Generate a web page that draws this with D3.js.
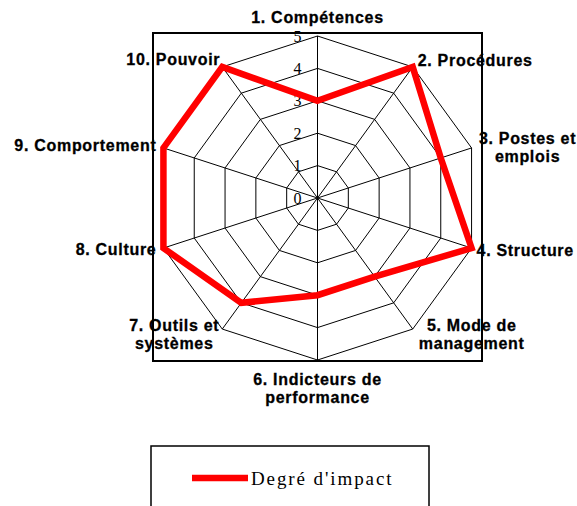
<!DOCTYPE html>
<html>
<head>
<meta charset="utf-8">
<script src="https://cdn.jsdelivr.net/npm/d3@7"></script>
<style>
  html, body { margin: 0; padding: 0; background: #fff; }
  svg { display: block; }
</style>
</head>
<body>
<svg id="chart" width="577" height="506"></svg>
<script>
// ---- Data ----
const categories = [
  "1. Compétences",
  "2. Procédures",
  "3. Postes et\nemplois",
  "4. Structure",
  "5. Mode de\nmanagement",
  "6. Indicteurs de\nperformance",
  "7. Outils et\nsystèmes",
  "8. Culture",
  "9. Comportement",
  "10. Pouvoir"
];
const values = [3, 5, 4, 5, 3, 3, 4, 5, 5, 5];
const tickValues = [0, 1, 2, 3, 4, 5];
const seriesName = "Degré d'impact";

// ---- Layout (not data) ----
const cx = 317.5, cy = 198, R = 162;
// label placement relative to the outer vertex of each axis: [anchor, dx, dy]
const labelLayout = [
  ["middle", 0, -13],
  ["start", 5, -1],
  ["middle", 56, -4],
  ["start", 5, 8],
  ["middle", 59, 2],
  ["middle", 0, 25],
  ["middle", -48, 2],
  ["end", -7, 7],
  ["end", -7, 3],
  ["end", -2, -2]
];

const svg = d3.select("#chart");
const r = d3.scaleLinear().domain([0, 5]).range([0, R]);
const angle = d3.scalePoint().domain(d3.range(categories.length))
  .range([0, 2 * Math.PI * (categories.length - 1) / categories.length]);

const pt = (i, v) => {
  const a = angle(i);
  return [cx + r(v) * Math.sin(a), cy - r(v) * Math.cos(a)];
};

// plot area box
svg.append("rect")
  .attr("x", 153).attr("y", 33).attr("width", 329).attr("height", 328)
  .attr("fill", "none").attr("stroke", "#000").attr("stroke-width", 2);

const g = svg.append("g");

// rings
tickValues.filter(t => t > 0).forEach(t => {
  g.append("path")
    .attr("d", d3.line()(d3.range(categories.length).map(i => pt(i, t))) + "Z")
    .attr("fill", "none").attr("stroke", "#000").attr("stroke-width", 1);
});

// spokes
d3.range(categories.length).forEach(i => {
  const [x, y] = pt(i, 5);
  g.append("line")
    .attr("x1", cx).attr("y1", cy).attr("x2", x).attr("y2", y)
    .attr("stroke", "#000").attr("stroke-width", 1);
});

// tick labels
g.selectAll("text.tick").data(tickValues).join("text")
  .attr("class", "tick")
  .attr("x", cx - 16)
  .attr("y", d => cy - r(d))
  .attr("dy", "0.35em")
  .attr("text-anchor", "end")
  .attr("font-family", "'Liberation Serif', 'Times New Roman', serif")
  .attr("font-size", 16)
  .attr("fill", "#000")
  .text(d => d);

// series line
const radial = d3.lineRadial()
  .angle((d, i) => angle(i))
  .radius(d => r(d))
  .curve(d3.curveLinearClosed);

svg.append("path")
  .attr("transform", `translate(${cx},${cy})`)
  .attr("d", radial(values))
  .attr("fill", "none")
  .attr("stroke", "#ff0000")
  .attr("stroke-width", 6.5)
  .attr("stroke-linejoin", "miter");

// category labels
categories.forEach((c, i) => {
  const [x, y] = pt(i, 5);
  const [anchor, dx, dy] = labelLayout[i];
  const t = svg.append("text")
    .attr("x", x + dx).attr("y", y + dy)
    .attr("text-anchor", anchor)
    .attr("font-family", "'Liberation Sans', Arial, sans-serif")
    .attr("font-weight", "bold")
    .attr("font-size", 16)
    .attr("letter-spacing", 0.7)
    .attr("fill", "#000")
    .attr("stroke", "#000")
    .attr("stroke-width", 0.3);
  c.split("\n").forEach((line, k) => {
    t.append("tspan").attr("x", x + dx).attr("dy", k === 0 ? 0 : 18).text(line);
  });
});

// legend
const lg = svg.append("g");
lg.append("rect")
  .attr("x", 151).attr("y", 446).attr("width", 278).attr("height", 80)
  .attr("fill", "#fff").attr("stroke", "#000").attr("stroke-width", 1.5);
lg.append("line")
  .attr("x1", 192).attr("x2", 248).attr("y1", 478).attr("y2", 478)
  .attr("stroke", "#ff0000").attr("stroke-width", 6.5);
lg.append("text")
  .attr("x", 251).attr("y", 485)
  .attr("font-family", "'Liberation Serif', 'Times New Roman', serif")
  .attr("font-size", 19)
  .attr("letter-spacing", 1.9)
  .attr("fill", "#000")
  .text(seriesName);
</script>
</body>
</html>
